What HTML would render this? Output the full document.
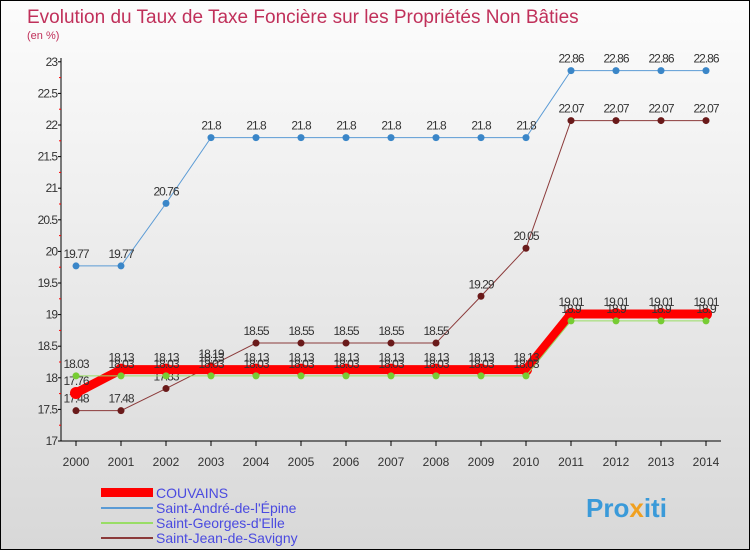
<!DOCTYPE html>
<html><head><meta charset="utf-8"><style>
body{margin:0}
#c{width:750px;height:550px;position:relative;background:linear-gradient(#fcfcfc,#d8d8d8);border:1px solid #000;box-sizing:border-box;overflow:hidden;font-family:"Liberation Sans",sans-serif}
</style></head><body>
<div id="c">
<svg id="s" width="750" height="550" xmlns="http://www.w3.org/2000/svg">
<text x="26" y="22" font-size="19" fill="#c0305a">Evolution du Taux de Taxe Foncière sur les Propriétés Non Bâties</text>
<text x="26" y="38" font-size="11" fill="#c0305a">(en %)</text>
<g id="axes"></g><g id="series"></g>
<g>
<rect x="100" y="487" width="52" height="9" fill="#ff0000"/>
<text x="155" y="497" font-size="14" fill="#4a4ae0">COUVAINS</text>
<line x1="100" y1="507" x2="152" y2="507" stroke="#5b9bd5" stroke-width="2"/>
<text x="155" y="512" font-size="14" fill="#4a4ae0">Saint-André-de-l'Épine</text>
<line x1="100" y1="522" x2="152" y2="522" stroke="#99dd66" stroke-width="2"/>
<text x="155" y="527" font-size="14" fill="#4a4ae0">Saint-Georges-d'Elle</text>
<line x1="100" y1="537" x2="152" y2="537" stroke="#8b3a3a" stroke-width="2"/>
<text x="155" y="542" font-size="14" fill="#4a4ae0">Saint-Jean-de-Savigny</text>
</g>
<text x="585" y="516" font-size="26" font-weight="bold" fill="#3a9ad9">Pro<tspan fill="#f0a020">x</tspan>iti</text>
</svg></div>
<script>
const years=[2000,2001,2002,2003,2004,2005,2006,2007,2008,2009,2010,2011,2012,2013,2014];
const yTicks=[17,17.5,18,18.5,19,19.5,20,20.5,21,21.5,22,22.5,23];
const couvains=[17.76,18.13,18.13,18.13,18.13,18.13,18.13,18.13,18.13,18.13,18.13,19.01,19.01,19.01,19.01];
const andre=[19.77,19.77,20.76,21.8,21.8,21.8,21.8,21.8,21.8,21.8,21.8,22.86,22.86,22.86,22.86];
const georges=[18.03,18.03,18.03,18.03,18.03,18.03,18.03,18.03,18.03,18.03,18.03,18.9,18.9,18.9,18.9];
const jean=[17.48,17.48,17.83,18.19,18.55,18.55,18.55,18.55,18.55,19.29,20.05,22.07,22.07,22.07,22.07];
const NS="http://www.w3.org/2000/svg";
const xs=i=>75+i*45, ys=v=>440-(v-17)*63.2;
function mk(t,a,p){const e=document.createElementNS(NS,t);for(const k in a)e.setAttribute(k,a[k]);p.appendChild(e);return e;}
const ax=document.getElementById('axes'), sg=document.getElementById('series');
let l=mk('line',{x1:60,y1:57,x2:60,y2:440,stroke:'#000'},ax);


l=mk('line',{x1:60,y1:440,x2:720,y2:440,stroke:'#000'},ax);


yTicks.forEach((v,i)=>{mk('line',{x1:57,x2:60,y1:ys(v),y2:ys(v),stroke:'#000'},ax);
 if(i<yTicks.length-1)mk('line',{x1:58,x2:60,y1:ys(v+0.25),y2:ys(v+0.25),stroke:'#f00'},ax);
 const t=mk('text',{x:56,y:ys(v)+4,'font-size':12,'text-anchor':'end',fill:'#333','letter-spacing':'-1'},ax);t.textContent=v;
 
 });
years.forEach((y,i)=>{mk('line',{x1:xs(i),x2:xs(i),y1:440,y2:445,stroke:'#000'},ax);
 const t=mk('text',{x:xs(i),y:465,'font-size':12,'text-anchor':'middle',fill:'#333'},ax);t.textContent=y;
 
 });
function series(d,color,w,r,pc,name){
 const p=mk('polyline',{points:d.map((v,i)=>xs(i)+','+ys(v)).join(' '),fill:'none',stroke:color,'stroke-width':w},sg);
 
 
 d.forEach((v,i)=>{const c=mk('circle',{cx:xs(i),cy:ys(v),r:r,fill:pc},sg);
  
  
  const t=mk('text',{x:xs(i),y:ys(v)-8,'font-size':12,'text-anchor':'middle',fill:'#333','letter-spacing':'-1'},sg);t.textContent=v;
  
  });
}
series(andre,'#5b9bd5',1,3.5,'#3a86c8','saint-andre');
series(jean,'#8b3a3a',1,3.5,'#6a1a1a','saint-jean');
series(couvains,'#ff0000',9,6,'#ff0000','couvains');
series(georges,'#99dd66',1,3.5,'#77cc33','saint-georges');
</script>
</body></html>
